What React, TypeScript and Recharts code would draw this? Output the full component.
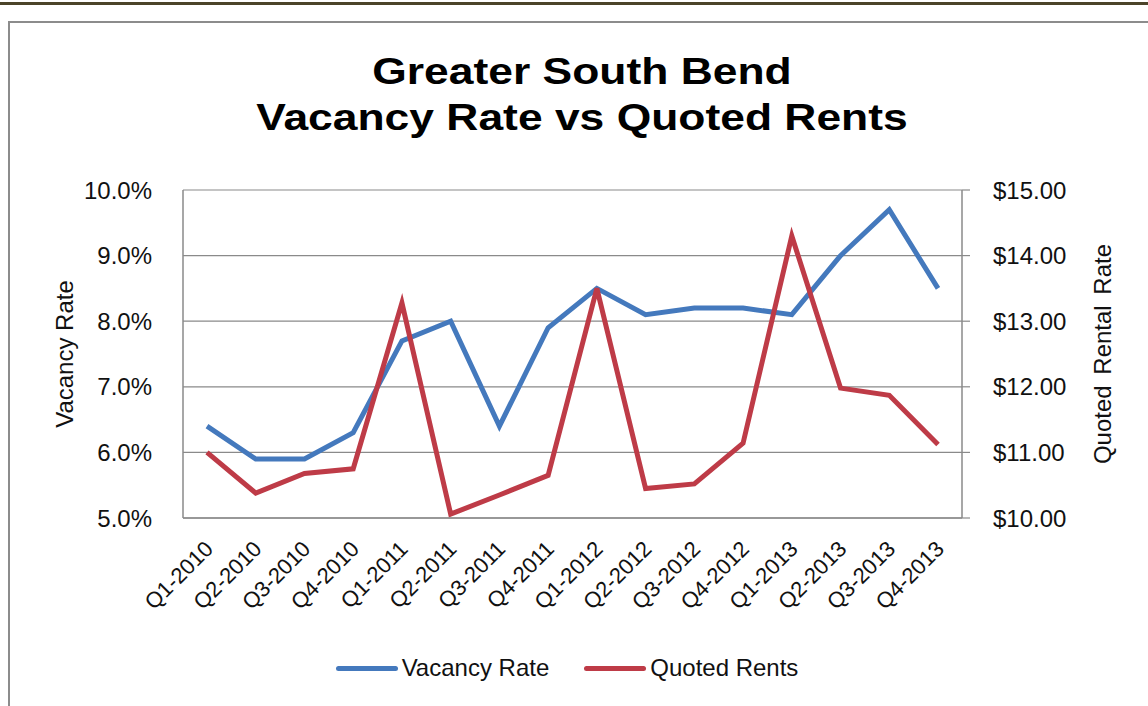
import { LineChart, Line, XAxis, YAxis, CartesianGrid, Legend } from 'recharts';

const quarters = [
  'Q1-2010', 'Q2-2010', 'Q3-2010', 'Q4-2010',
  'Q1-2011', 'Q2-2011', 'Q3-2011', 'Q4-2011',
  'Q1-2012', 'Q2-2012', 'Q3-2012', 'Q4-2012',
  'Q1-2013', 'Q2-2013', 'Q3-2013', 'Q4-2013',
];
const vacancyRate = [6.4, 5.9, 5.9, 6.3, 7.7, 8.0, 6.4, 7.9, 8.5, 8.1, 8.2, 8.2, 8.1, 9.0, 9.7, 8.5];
const quotedRents = [11.0, 10.38, 10.68, 10.75, 13.28, 10.06, 10.35, 10.65, 13.5, 10.45, 10.52, 11.14, 14.3, 11.98, 11.87, 11.12];
const vacancyTicks = [5, 6, 7, 8, 9, 10];
const rentTicks = [10, 11, 12, 13, 14, 15];

const BLUE = '#4479bd';
const RED = '#be3b47';
const GRID = '#8a8a8a';
const FONT = '"Liberation Sans", Arial, sans-serif';

const data = quarters.map((q, i) => ({ q, vacancy: vacancyRate[i], rent: quotedRents[i] }));

function QuarterTick(props: any) {
  const { x, y, payload } = props;
  const ax = x + 2;
  const ay = y + 19;
  return (
    <text
      x={ax}
      y={ay}
      transform={`rotate(-45, ${ax}, ${ay})`}
      textAnchor="end"
      dominantBaseline="central"
      fontSize={22}
      fontFamily={FONT}
      fill="#111"
    >
      {payload.value}
    </text>
  );
}

function LegendContent() {
  const items = [
    { label: 'Vacancy Rate', color: BLUE },
    { label: 'Quoted Rents', color: RED },
  ];
  return (
    <div style={{ height: 40, display: 'flex', justifyContent: 'center', alignItems: 'center', gap: 35, fontFamily: FONT, fontSize: 24, color: '#111', paddingRight: 14 }}>
      {items.map((it) => (
        <div key={it.label} style={{ display: 'flex', alignItems: 'center' }}>
          <div style={{ width: 62, height: 5, borderRadius: 3, background: it.color, marginRight: 4 }} />
          <span>{it.label}</span>
        </div>
      ))}
    </div>
  );
}

export default function App() {
  return (
    <div style={{ position: 'absolute', left: 0, top: 0, width: 1148, height: 706, overflow: 'hidden', background: '#fff' }}>
      <div style={{ position: 'absolute', left: 0, top: 2, width: 1148, height: 3, background: '#4b4429' }} />
      <div style={{ position: 'absolute', left: 8, top: 21, width: 1160, height: 720, border: '2px solid #8c8c8c', boxSizing: 'border-box' }} />
      <div style={{ position: 'absolute', left: 0, top: 49, width: 1164, textAlign: 'center', fontFamily: FONT, fontWeight: 'bold', fontSize: 37, lineHeight: '46px', color: '#000', transform: 'scaleX(1.2)', transformOrigin: '582px 0' }}>
        Greater South Bend
        <br />
        Vacancy Rate vs Quoted Rents
      </div>
      <div style={{ position: 'absolute', left: 0, top: 0 }}>
        <LineChart width={1148} height={706} data={data} margin={{ top: 190, right: 0, bottom: 18, left: 0 }}>
          <CartesianGrid vertical={false} stroke={GRID} strokeWidth={1.2} yAxisId="left" />
          <XAxis
            dataKey="q"
            height={130}
            interval={0}
            padding={{ left: 24, right: 24 }}
            tickLine={false}
            axisLine={{ stroke: GRID, strokeWidth: 1.5 }}
            tick={<QuarterTick />}
          />
          <YAxis
            yAxisId="left"
            orientation="left"
            width={183}
            domain={[5, 10]}
            ticks={vacancyTicks}
            tickFormatter={(v: number) => `${v.toFixed(1)}%`}
            tickLine={false}
            tickMargin={25}
            axisLine={{ stroke: GRID, strokeWidth: 1.5 }}
            tick={{ fontSize: 24, fontFamily: FONT, fill: '#111' }}
            label={{ value: 'Vacancy Rate', angle: -90, position: 'center', dx: -27, fontSize: 24, fontFamily: FONT, fill: '#111' }}
          />
          <YAxis
            yAxisId="right"
            orientation="right"
            width={186}
            domain={[10, 15]}
            ticks={rentTicks}
            tickFormatter={(v: number) => `$${v.toFixed(2)}`}
            tickSize={8}
            tickMargin={23}
            tickLine={{ stroke: GRID, strokeWidth: 1.2 }}
            axisLine={{ stroke: GRID, strokeWidth: 1.5 }}
            tick={{ fontSize: 24, fontFamily: FONT, fill: '#111' }}
            label={{ value: 'Quoted Rental Rate', angle: -90, position: 'center', dx: 47, fontSize: 24, fontFamily: FONT, fill: '#111', wordSpacing: 4 }}
          />
          <Legend verticalAlign="bottom" content={<LegendContent />} />
          <Line yAxisId="left" type="linear" dataKey="vacancy" name="Vacancy Rate" stroke={BLUE} strokeWidth={5} dot={false} isAnimationActive={false} />
          <Line yAxisId="right" type="linear" dataKey="rent" name="Quoted Rents" stroke={RED} strokeWidth={5} dot={false} isAnimationActive={false} />
        </LineChart>
      </div>
    </div>
  );
}
